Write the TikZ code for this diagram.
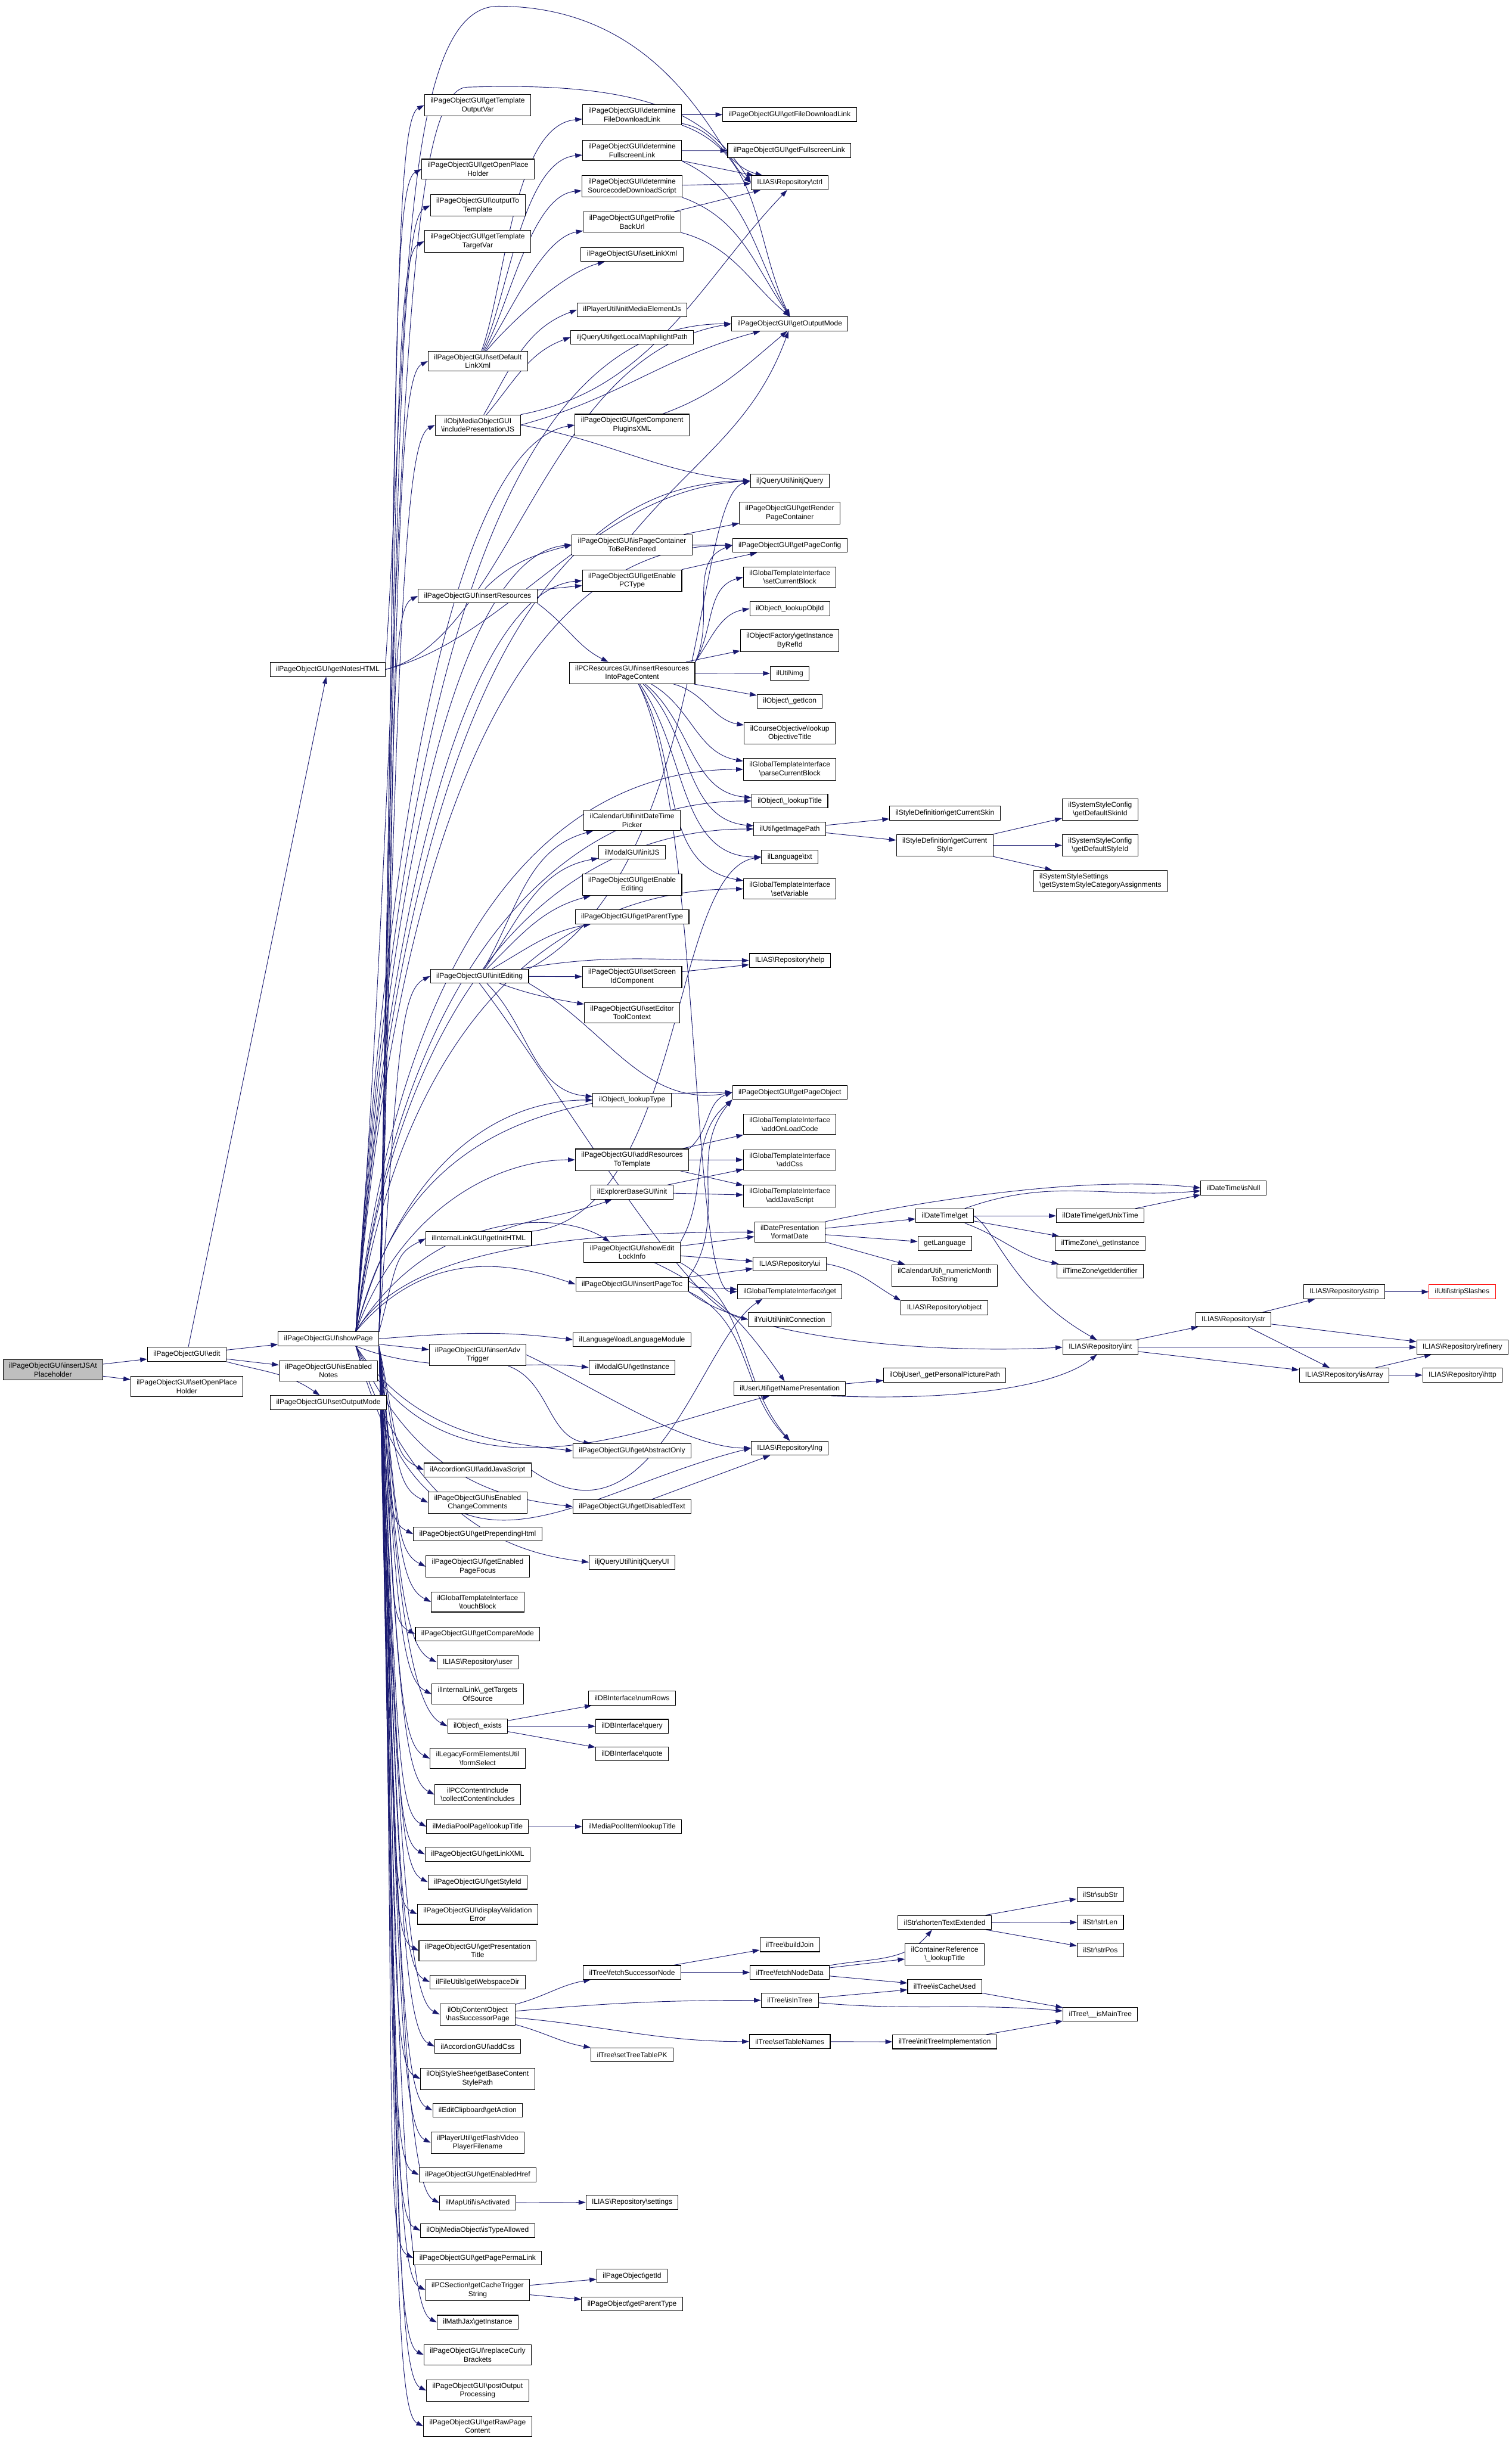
\documentclass[tikz,border=0pt]{standalone}
\usepackage{fontspec}
\setmainfont{Liberation Sans}
\usetikzlibrary{arrows.meta, backgrounds}
\definecolor{edgeblue}{RGB}{25,25,112}
\newcommand{\bsl}{\textbackslash}

\begin{document}
\begin{tikzpicture}[
			x=1pt, y=-1pt,
			fn/.style={rectangle, draw=black, fill=white, line width=0.4pt, align=center,
				inner xsep=3.8pt, inner ysep=2pt, minimum height=9pt, font=\fontsize{4.6}{5.6}\selectfont},
			rootfn/.style={fn, fill=black!25},
			redfn/.style={fn, draw=red},
			arr/.style={-{Triangle[length=4.5pt,width=3pt]}, draw=edgeblue, line width=0.35pt}
		]
			\useasboundingbox (0,0) rectangle (971,1568);

			\node[rootfn] (root) at (34,880) {ilPageObjectGUI\bsl insertJSAt\\Placeholder};
			\node[fn] (edit) at (120,870) {ilPageObjectGUI\bsl edit};
			\node[fn] (setOPH) at (120,890.7) {ilPageObjectGUI\bsl setOpenPlace\\Holder};
			\node[fn] (showPage) at (211,860) {ilPageObjectGUI\bsl showPage};
			\node[fn] (isEnNotes) at (211,880.5) {ilPageObjectGUI\bsl isEnabled\\Notes};
			\node[fn] (setOutMode) at (211,901) {ilPageObjectGUI\bsl setOutputMode};
			\node[fn] (getNotes) at (210.5,430) {ilPageObjectGUI\bsl getNotesHTML};

			\node[fn] (getTplOut) at (306.8,67.6) {ilPageObjectGUI\bsl getTemplate\\OutputVar};
			\node[fn] (getOPH) at (307,108.7) {ilPageObjectGUI\bsl getOpenPlace\\Holder};
			\node[fn] (outToTpl) at (306.9,132) {ilPageObjectGUI\bsl outputTo\\Template};
			\node[fn] (getTplTgt) at (306.8,155) {ilPageObjectGUI\bsl getTemplate\\TargetVar};
			\node[fn] (setDefLink) at (306.9,232) {ilPageObjectGUI\bsl setDefault\\LinkXml};
			\node[fn] (inclPresJS) at (306.9,273) {ilObjMediaObjectGUI\\\bsl includePresentationJS};
			\node[fn] (insRes) at (306.8,382.8) {ilPageObjectGUI\bsl insertResources};
			\node[fn] (initEdit) at (308,627) {ilPageObjectGUI\bsl initEditing};
			\node[fn] (getInitHTML) at (307.5,795.6) {ilInternalLinkGUI\bsl getInitHTML};
			\node[fn] (insAdv) at (306.8,870.3) {ilPageObjectGUI\bsl insertAdv\\Trigger};
			\node[fn] (accJS) at (306.8,944.3) {ilAccordionGUI\bsl addJavaScript};
			\node[fn] (isEnCC) at (306.8,965.2) {ilPageObjectGUI\bsl isEnabled\\ChangeComments};
			\node[fn] (getPrepHtml) at (306.8,985.4) {ilPageObjectGUI\bsl getPrependingHtml};
			\node[fn] (getEnPF) at (306.8,1006.3) {ilPageObjectGUI\bsl getEnabled\\PageFocus};
			\node[fn] (touchBlock) at (306.8,1029) {ilGlobalTemplateInterface\\\bsl touchBlock};
			\node[fn] (getCmpMode) at (306.8,1049.6) {ilPageObjectGUI\bsl getCompareMode};
			\node[fn] (repUser) at (306.8,1067.7) {ILIAS\bsl Repository\bsl user};
			\node[fn] (getTargets) at (306.8,1088.2) {ilInternalLink\bsl\_getTargets\\OfSource};
			\node[fn] (objExists) at (306.8,1108.8) {ilObject\bsl\_exists};
			\node[fn] (formSel) at (306.8,1129.6) {ilLegacyFormElementsUtil\\\bsl formSelect};
			\node[fn] (collCI) at (306.8,1152.7) {ilPCContentInclude\\\bsl collectContentIncludes};
			\node[fn] (mpPageLT) at (306.8,1173.3) {ilMediaPoolPage\bsl lookupTitle};
			\node[fn] (getLinkXML) at (306.8,1191.1) {ilPageObjectGUI\bsl getLinkXML};
			\node[fn] (getStyleId) at (306.8,1209) {ilPageObjectGUI\bsl getStyleId};
			\node[fn] (dispValErr) at (306.8,1229.6) {ilPageObjectGUI\bsl displayValidation\\Error};
			\node[fn] (getPresTitle) at (306.8,1253) {ilPageObjectGUI\bsl getPresentation\\Title};
			\node[fn] (getWebDir) at (306.8,1273.2) {ilFileUtils\bsl getWebspaceDir};
			\node[fn] (hasSucc) at (306.8,1294) {ilObjContentObject\\\bsl hasSuccessorPage};
			\node[fn] (accCss) at (306.8,1314.5) {ilAccordionGUI\bsl addCss};
			\node[fn] (baseCSP) at (306.8,1335.3) {ilObjStyleSheet\bsl getBaseContent\\StylePath};
			\node[fn] (clipAction) at (306.8,1355.6) {ilEditClipboard\bsl getAction};
			\node[fn] (flashVid) at (306.8,1376.4) {ilPlayerUtil\bsl getFlashVideo\\PlayerFilename};
			\node[fn] (getEnHref) at (306.8,1397) {ilPageObjectGUI\bsl getEnabledHref};
			\node[fn] (mapAct) at (306.8,1415) {ilMapUtil\bsl isActivated};
			\node[fn] (typeAllowed) at (306.8,1432.8) {ilObjMediaObject\bsl isTypeAllowed};
			\node[fn] (permaLink) at (306.8,1450.5) {ilPageObjectGUI\bsl getPagePermaLink};
			\node[fn] (cacheTrig) at (306.8,1471) {ilPCSection\bsl getCacheTrigger\\String};
			\node[fn] (mathJax) at (306.8,1491.7) {ilMathJax\bsl getInstance};
			\node[fn] (curly) at (306.8,1512.7) {ilPageObjectGUI\bsl replaceCurly\\Brackets};
			\node[fn] (postOut) at (306.8,1535.6) {ilPageObjectGUI\bsl postOutput\\Processing};
			\node[fn] (rawPage) at (306.8,1558.5) {ilPageObjectGUI\bsl getRawPage\\Content};

			\node[fn] (detFileDL) at (406,73.7) {ilPageObjectGUI\bsl determine\\FileDownloadLink};
			\node[fn] (detFull) at (406,96.8) {ilPageObjectGUI\bsl determine\\FullscreenLink};
			\node[fn] (detSrc) at (406,119.7) {ilPageObjectGUI\bsl determine\\SourcecodeDownloadScript};
			\node[fn] (profBack) at (406,142.7) {ilPageObjectGUI\bsl getProfile\\BackUrl};
			\node[fn] (setLinkXml) at (406,163.4) {ilPageObjectGUI\bsl setLinkXml};
			\node[fn] (initMEJs) at (406,199) {ilPlayerUtil\bsl initMediaElementJs};
			\node[fn] (mapHiPath) at (406,216.7) {iljQueryUtil\bsl getLocalMaphilightPath};
			\node[fn] (compPlug) at (406,273) {ilPageObjectGUI\bsl getComponent\\PluginsXML};
			\node[fn] (isPCRend) at (406,350) {ilPageObjectGUI\bsl isPageContainer\\ToBeRendered};
			\node[fn] (getEnPC) at (406,373) {ilPageObjectGUI\bsl getEnable\\PCType};
			\node[fn] (insResPC) at (406,432.3) {ilPCResourcesGUI\bsl insertResources\\IntoPageContent};
			\node[fn] (dtPicker) at (406,527) {ilCalendarUtil\bsl initDateTime\\Picker};
			\node[fn] (modalJS) at (406,547.5) {ilModalGUI\bsl initJS};
			\node[fn] (getEnEdit) at (406,568.3) {ilPageObjectGUI\bsl getEnable\\Editing};
			\node[fn] (getParType) at (406,589) {ilPageObjectGUI\bsl getParentType};
			\node[fn] (setScreen) at (406,627.5) {ilPageObjectGUI\bsl setScreen\\IdComponent};
			\node[fn] (setEdCtx) at (406,650.5) {ilPageObjectGUI\bsl setEditor\\ToolContext};
			\node[fn] (lookupType) at (406,706.6) {ilObject\bsl\_lookupType};
			\node[fn] (addResTpl) at (406,745) {ilPageObjectGUI\bsl addResources\\ToTemplate};
			\node[fn] (explInit) at (406,765.8) {ilExplorerBaseGUI\bsl init};
			\node[fn] (showLock) at (406,804.4) {ilPageObjectGUI\bsl showEdit\\LockInfo};
			\node[fn] (insToc) at (406,825) {ilPageObjectGUI\bsl insertPageToc};
			\node[fn] (loadLang) at (406,860.6) {ilLanguage\bsl loadLanguageModule};
			\node[fn] (modalInst) at (406,878.4) {ilModalGUI\bsl getInstance};
			\node[fn] (absOnly) at (406,932) {ilPageObjectGUI\bsl getAbstractOnly};
			\node[fn] (disText) at (406,967.8) {ilPageObjectGUI\bsl getDisabledText};
			\node[fn] (jqUI) at (406,1003.5) {iljQueryUtil\bsl initjQueryUI};
			\node[fn] (numRows) at (406,1090.8) {ilDBInterface\bsl numRows};
			\node[fn] (dbQuery) at (406,1108.9) {ilDBInterface\bsl query};
			\node[fn] (dbQuote) at (406,1126.6) {ilDBInterface\bsl quote};
			\node[fn] (mpItemLT) at (406,1173.3) {ilMediaPoolItem\bsl lookupTitle};
			\node[fn] (fetchSucc) at (406,1267) {ilTree\bsl fetchSuccessorNode};
			\node[fn] (setPK) at (406,1320) {ilTree\bsl setTreeTablePK};
			\node[fn] (repSettings) at (406,1414.6) {ILIAS\bsl Repository\bsl settings};
			\node[fn] (pgGetId) at (406,1462) {ilPageObject\bsl getId};
			\node[fn] (pgParType) at (406,1480) {ilPageObject\bsl getParentType};

			\node[fn] (getFileDL) at (507.2,73.6) {ilPageObjectGUI\bsl getFileDownloadLink};
			\node[fn] (getFullLink) at (507,96.7) {ilPageObjectGUI\bsl getFullscreenLink};
			\node[fn] (repCtrl) at (507.3,117.4) {ILIAS\bsl Repository\bsl ctrl};
			\node[fn] (getOutMode) at (507.3,208) {ilPageObjectGUI\bsl getOutputMode};
			\node[fn] (jq) at (507.3,309) {iljQueryUtil\bsl initjQuery};
			\node[fn] (renderPC) at (507.3,329.6) {ilPageObjectGUI\bsl getRender\\PageContainer};
			\node[fn] (pageConfig) at (507.3,350.3) {ilPageObjectGUI\bsl getPageConfig};
			\node[fn] (setCurBlock) at (507.3,370.7) {ilGlobalTemplateInterface\\\bsl setCurrentBlock};
			\node[fn] (lookupObjId) at (507.3,391) {ilObject\bsl\_lookupObjId};
			\node[fn] (instByRef) at (507.3,411.5) {ilObjectFactory\bsl getInstance\\ByRefId};
			\node[fn] (utilImg) at (507.3,432.6) {ilUtil\bsl img};
			\node[fn] (getIcon) at (507.3,450.5) {ilObject\bsl\_getIcon};
			\node[fn] (objTitle) at (507.3,471) {ilCourseObjective\bsl lookup\\ObjectiveTitle};
			\node[fn] (parseCB) at (507.3,494.2) {ilGlobalTemplateInterface\\\bsl parseCurrentBlock};
			\node[fn] (lookupTitle) at (507.3,514.5) {ilObject\bsl\_lookupTitle};
			\node[fn] (imgPath) at (507.3,532.5) {ilUtil\bsl getImagePath};
			\node[fn] (langTxt) at (507.3,550.5) {ilLanguage\bsl txt};
			\node[fn] (setVar) at (507.3,571) {ilGlobalTemplateInterface\\\bsl setVariable};
			\node[fn] (repHelp) at (507.3,617) {ILIAS\bsl Repository\bsl help};
			\node[fn] (pageObj) at (507.3,701.7) {ilPageObjectGUI\bsl getPageObject};
			\node[fn] (onLoad) at (507.3,722.3) {ilGlobalTemplateInterface\\\bsl addOnLoadCode};
			\node[fn] (addCss) at (507.3,745) {ilGlobalTemplateInterface\\\bsl addCss};
			\node[fn] (addJS) at (507.3,768.3) {ilGlobalTemplateInterface\\\bsl addJavaScript};
			\node[fn] (fmtDate) at (507.3,791.4) {ilDatePresentation\\\bsl formatDate};
			\node[fn] (repUi) at (507.3,811.9) {ILIAS\bsl Repository\bsl ui};
			\node[fn] (tplGet) at (507.3,829.7) {ilGlobalTemplateInterface\bsl get};
			\node[fn] (yuiConn) at (507.3,847.5) {ilYuiUtil\bsl initConnection};
			\node[fn] (namePres) at (507.3,892) {ilUserUtil\bsl getNamePresentation};
			\node[fn] (repLng) at (507.3,930.2) {ILIAS\bsl Repository\bsl lng};
			\node[fn] (buildJoin) at (507.3,1249.2) {ilTree\bsl buildJoin};
			\node[fn] (fetchND) at (507.3,1267) {ilTree\bsl fetchNodeData};
			\node[fn] (isInTree) at (507.3,1284.9) {ilTree\bsl isInTree};
			\node[fn] (setTblNames) at (507.3,1311.4) {ilTree\bsl setTableNames};

			\node[fn] (curSkin) at (606.9,522.4) {ilStyleDefinition\bsl getCurrentSkin};
			\node[fn] (curStyle) at (606.8,543) {ilStyleDefinition\bsl getCurrent\\Style};
			\node[fn] (dtGet) at (606.8,781) {ilDateTime\bsl get};
			\node[fn] (getLanguage) at (606.8,798.8) {getLanguage};
			\node[fn] (monthStr) at (606.8,819.3) {ilCalendarUtil\bsl\_numericMonth\\ToString};
			\node[fn] (repObject) at (606.6,840.1) {ILIAS\bsl Repository\bsl object};
			\node[fn] (picPath) at (606.8,883.3) {ilObjUser\bsl\_getPersonalPicturePath};
			\node[fn] (shorten) at (606.8,1234.9) {ilStr\bsl shortenTextExtended};
			\node[fn] (contRefLT) at (606.8,1255.4) {ilContainerReference\\\bsl\_lookupTitle};
			\node[fn] (cacheUsed) at (606.8,1276) {ilTree\bsl isCacheUsed};
			\node[fn] (initTreeImpl) at (606.8,1311.6) {ilTree\bsl initTreeImplementation};

			\node[fn] (skinId) at (706.6,520) {ilSystemStyleConfig\\\bsl getDefaultSkinId};
			\node[fn] (styleId) at (706.6,543) {ilSystemStyleConfig\\\bsl getDefaultStyleId};
			\node[fn, align=left] (catAssign) at (706.8,566) {ilSystemStyleSettings\\\bsl getSystemStyleCategoryAssignments};
			\node[fn] (unixTime) at (706.7,781) {ilDateTime\bsl getUnixTime};
			\node[fn] (tzInst) at (706.7,798.8) {ilTimeZone\bsl\_getInstance};
			\node[fn] (tzIdent) at (706.7,816.5) {ilTimeZone\bsl getIdentifier};
			\node[fn] (repInt) at (706.8,865.4) {ILIAS\bsl Repository\bsl int};
			\node[fn] (subStr) at (706.8,1217) {ilStr\bsl subStr};
			\node[fn] (strLen) at (706.8,1234.8) {ilStr\bsl strLen};
			\node[fn] (strPos) at (706.8,1252.6) {ilStr\bsl strPos};
			\node[fn] (mainTree) at (706.8,1293.9) {ilTree\bsl\_\_isMainTree};

			\node[fn] (isNull) at (792.3,763.1) {ilDateTime\bsl isNull};
			\node[fn] (repStr) at (792.2,847.6) {ILIAS\bsl Repository\bsl str};
			\node[fn] (repStrip) at (863.4,829.8) {ILIAS\bsl Repository\bsl strip};
			\node[fn] (isArray) at (863.4,883.3) {ILIAS\bsl Repository\bsl isArray};
			\node[redfn] (stripSl) at (939.2,829.8) {ilUtil\bsl stripSlashes};
			\node[fn] (refinery) at (939.4,865.4) {ILIAS\bsl Repository\bsl refinery};
			\node[fn] (http) at (939.4,883.3) {ILIAS\bsl Repository\bsl http};

			\begin{scope}[on background layer]
			\fill[white] (0,0) rectangle (971,1568);
			\draw[arr] (root) -- (edit);
			\draw[arr] (root) -- (setOPH);
			\draw[arr] (edit) -- (showPage);
			\draw[arr] (edit) -- (isEnNotes);
			\draw[arr] (edit.south east) to[out=-15,in=145] (setOutMode.140);
			\draw[arr] (edit) -- (getNotes);

			\draw[arr] (getNotes.north east) .. controls (262,200) and (258,4) .. (320,4) .. controls (430,4) and (462,100) .. (repCtrl.west);
			\draw[arr] (getNotes.east) .. controls +(80,-20) and +(-120,20) .. (getOutMode.west);
			\draw[arr] (getNotes.east) .. controls +(80,-20) and +(-100,5) .. (jq.west);

			\draw[arr] (showPage.north east) .. controls +(12,-591) and +(-20,10) .. (getTplOut.west);
			\draw[arr] (showPage.north east) .. controls +(12,-560) and +(-20,10) .. (getOPH.west);
			\draw[arr] (showPage.north east) .. controls +(12,-543) and +(-20,10) .. (outToTpl.west);
			\draw[arr] (showPage.north east) .. controls +(12,-525) and +(-20,10) .. (getTplTgt.west);
			\draw[arr] (showPage.north east) .. controls +(12,-468) and +(-20,10) .. (setDefLink.west);
			\draw[arr] (showPage.north east) .. controls +(12,-437) and +(-20,10) .. (inclPresJS.west);
			\draw[arr] (showPage.north east) .. controls +(12,-355) and +(-20,10) .. (insRes.west);
			\draw[arr] (showPage.north east) .. controls +(12,-171) and +(-20,10) .. (initEdit.west);
			\draw[arr] (showPage.north east) .. controls +(12,-45) and +(-20,10) .. (getInitHTML.west);
			\draw[arr] (showPage) -- (insAdv);
			\draw[arr] (showPage.south east) .. controls +(12,60) and +(-20,-10) .. (accJS.west);
			\draw[arr] (showPage.south east) .. controls +(12,76) and +(-20,-10) .. (isEnCC.west);
			\draw[arr] (showPage.south east) .. controls +(12,91) and +(-20,-10) .. (getPrepHtml.west);
			\draw[arr] (showPage.south east) .. controls +(12,106) and +(-20,-10) .. (getEnPF.west);
			\draw[arr] (showPage.south east) .. controls +(12,123) and +(-20,-10) .. (touchBlock.west);
			\draw[arr] (showPage.south east) .. controls +(12,139) and +(-20,-10) .. (getCmpMode.west);
			\draw[arr] (showPage.south east) .. controls +(12,152) and +(-20,-10) .. (repUser.west);
			\draw[arr] (showPage.south east) .. controls +(12,168) and +(-20,-10) .. (getTargets.west);
			\draw[arr] (showPage.south east) .. controls +(12,183) and +(-20,-10) .. (objExists.west);
			\draw[arr] (showPage.south east) .. controls +(12,199) and +(-20,-10) .. (formSel.west);
			\draw[arr] (showPage.south east) .. controls +(12,216) and +(-20,-10) .. (collCI.west);
			\draw[arr] (showPage.south east) .. controls +(12,232) and +(-20,-10) .. (mpPageLT.west);
			\draw[arr] (showPage.south east) .. controls +(12,245) and +(-20,-10) .. (getLinkXML.west);
			\draw[arr] (showPage.south east) .. controls +(12,258) and +(-20,-10) .. (getStyleId.west);
			\draw[arr] (showPage.south east) .. controls +(12,274) and +(-20,-10) .. (dispValErr.west);
			\draw[arr] (showPage.south east) .. controls +(12,291) and +(-20,-10) .. (getPresTitle.west);
			\draw[arr] (showPage.south east) .. controls +(12,307) and +(-20,-10) .. (getWebDir.west);
			\draw[arr] (showPage.south east) .. controls +(12,322) and +(-20,-10) .. (hasSucc.west);
			\draw[arr] (showPage.south east) .. controls +(12,338) and +(-20,-10) .. (accCss.west);
			\draw[arr] (showPage.south east) .. controls +(12,353) and +(-20,-10) .. (baseCSP.west);
			\draw[arr] (showPage.south east) .. controls +(12,368) and +(-20,-10) .. (clipAction.west);
			\draw[arr] (showPage.south east) .. controls +(12,384) and +(-20,-10) .. (flashVid.west);
			\draw[arr] (showPage.south east) .. controls +(12,399) and +(-20,-10) .. (getEnHref.west);
			\draw[arr] (showPage.south east) .. controls +(12,413) and +(-20,-10) .. (mapAct.west);
			\draw[arr] (showPage.south east) .. controls +(12,426) and +(-20,-10) .. (typeAllowed.west);
			\draw[arr] (showPage.south east) .. controls +(12,440) and +(-20,-10) .. (permaLink.west);
			\draw[arr] (showPage.south east) .. controls +(12,455) and +(-20,-10) .. (cacheTrig.west);
			\draw[arr] (showPage.south east) .. controls +(12,470) and +(-20,-10) .. (mathJax.west);
			\draw[arr] (showPage.south east) .. controls +(12,486) and +(-20,-10) .. (curly.west);
			\draw[arr] (showPage.south east) .. controls +(12,503) and +(-20,-10) .. (postOut.west);
			\draw[arr] (showPage.south east) .. controls +(12,520) and +(-20,-10) .. (rawPage.west);

			\draw[arr] (showPage.15) .. controls +(25,-420) and +(-60,10) .. (compPlug.west);
			\draw[arr] (showPage.15) .. controls +(25,-360) and +(-60,5) .. (isPCRend.west);
			\draw[arr] (showPage.15) .. controls +(25,-340) and +(-60,5) .. (getEnPC.west);
			\draw[arr] (showPage.15) .. controls (262,400) and (252,58) .. (300,56) .. controls (420,52) and (455,75) .. (repCtrl.west);
			\draw[arr] (showPage.15) .. controls +(30,-470) and +(-130,0) .. (getOutMode.west);
			\draw[arr] (showPage.15) .. controls +(30,-400) and +(-130,0) .. (jq.west);
			\draw[arr] (showPage.15) .. controls +(30,-370) and +(-120,0) .. (pageConfig.west);
			\draw[arr] (showPage.15) .. controls +(30,-260) and +(-120,0) .. (parseCB.west);
			\draw[arr] (showPage.15) .. controls +(30,-240) and +(-120,0) .. (lookupTitle.west);
			\draw[arr] (showPage.15) .. controls +(30,-230) and +(-120,0) .. (imgPath.west);
			\draw[arr] (showPage.15) .. controls +(30,-200) and +(-120,0) .. (setVar.west);
			\draw[arr] (showPage.15) .. controls +(30,-110) and +(-60,0) .. (lookupType.west);
			\draw[arr] (showPage.15) .. controls +(30,-120) and +(-130,0) .. (pageObj.west);
			\draw[arr] (showPage.15) .. controls +(30,-80) and +(-50,0) .. (addResTpl.west);
			\draw[arr] (showPage.15) .. controls +(30,-50) and +(-130,0) .. (fmtDate.west);
			\draw[arr] (showPage.15) .. controls +(50,-80) and +(-30,-20) .. (showLock.155);
			\draw[arr] (showPage.15) .. controls +(50,-60) and +(-30,-10) .. (insToc.west);
			\draw[arr] (showPage.east) .. controls +(60,-5) and +(-40,-5) .. (loadLang.west);
			\draw[arr] (showPage.-15) .. controls +(50,20) and +(-40,-5) .. (modalInst.west);
			\draw[arr] (showPage.-15) .. controls +(60,110) and +(-80,20) .. (namePres.200);
			\draw[arr] (showPage.-15) .. controls +(40,60) and +(-40,-5) .. (absOnly.west);
			\draw[arr] (showPage.-15) .. controls +(50,180) and +(-120,30) .. (repLng.west);
			\draw[arr] (showPage.-15) .. controls +(40,90) and +(-40,-5) .. (disText.west);
			\draw[arr] (showPage.-15) .. controls +(40,120) and +(-40,-5) .. (jqUI.west);

			\draw[arr] (setDefLink) to[out=70,in=185,looseness=0.7] (detFileDL);
			\draw[arr] (setDefLink) to[out=65,in=185,looseness=0.7] (detFull);
			\draw[arr] (setDefLink) to[out=60,in=185,looseness=0.7] (detSrc);
			\draw[arr] (setDefLink) to[out=55,in=190,looseness=0.7] (profBack);
			\draw[arr] (setDefLink) to[out=50,in=195,looseness=0.7] (setLinkXml);
			\draw[arr] (inclPresJS) to[out=60,in=200] (initMEJs.west);
			\draw[arr] (inclPresJS) to[out=50,in=200] (mapHiPath.west);
			\draw[arr] (inclPresJS.north east) .. controls (420,250) and (450,180) .. (repCtrl.-110);
			\draw[arr] (inclPresJS.east) to[out=15,in=195] (getOutMode.194);
			\draw[arr] (inclPresJS.east) to[out=-10,in=175] (jq.west);
			\draw[arr] (insRes) to[out=45,in=195] (isPCRend.west);
			\draw[arr] (insRes) -- (getEnPC);
			\draw[arr] (insRes.south east) .. controls +(20,15) and +(-20,-10) .. (insResPC.155);
			\draw[arr] (isPCRend) -- (renderPC);
			\draw[arr] (isPCRend) -- (pageConfig);
			\draw[arr] (isPCRend.north) to[out=50,in=250] (getOutMode.-100);
			\draw[arr] (getEnPC) -- (pageConfig);
			\draw[arr] (compPlug) to[out=20,in=220] (getOutMode.-110);
			\draw[arr] (detFileDL) -- (getFileDL);
			\draw[arr] (detFileDL) to[out=-10,in=165] (repCtrl);
			\draw[arr] (detFileDL.south east) to[out=-20,in=115] (getOutMode.north);
			\draw[arr] (detFull) -- (getFullLink);
			\draw[arr] (detFull) -- (repCtrl);
			\draw[arr] (detFull.south east) to[out=-25,in=120] (getOutMode.north);
			\draw[arr] (detSrc) -- (repCtrl);
			\draw[arr] (detSrc.south east) to[out=-20,in=125] (getOutMode.north);
			\draw[arr] (profBack) -- (repCtrl);
			\draw[arr] (profBack.south east) to[out=-15,in=140] (getOutMode.north);

			\draw[arr] (insResPC.north east) to[out=60,in=195] (setCurBlock.west);
			\draw[arr] (insResPC.north east) to[out=55,in=190] (lookupObjId.west);
			\draw[arr] (insResPC.north east) to[out=65,in=200] (pageConfig.west);
			\draw[arr] (insResPC) -- (instByRef);
			\draw[arr] (insResPC) -- (utilImg);
			\draw[arr] (insResPC) -- (getIcon);
			\draw[arr] (insResPC) to[out=-15,in=170] (objTitle);
			\draw[arr] (insResPC) to[out=-30,in=170] (parseCB);
			\draw[arr] (insResPC) to[out=-40,in=175] (lookupTitle);
			\draw[arr] (insResPC) to[out=-45,in=175] (imgPath);
			\draw[arr] (insResPC) to[out=-55,in=180] (langTxt);
			\draw[arr] (insResPC) to[out=-60,in=170] (setVar);
			\draw[arr] (insResPC.-60) .. controls +(40,80) and +(-30,0) .. (tplGet.west);
			\draw[arr] (imgPath) -- (curSkin);
			\draw[arr] (imgPath) -- (curStyle);
			\draw[arr] (curStyle) -- (skinId);
			\draw[arr] (curStyle) -- (styleId);
			\draw[arr] (curStyle) -- (catAssign);

			\draw[arr] (initEdit) to[out=60,in=195] (dtPicker);
			\draw[arr] (initEdit) to[out=55,in=190] (modalJS);
			\draw[arr] (initEdit) to[out=45,in=195] (getEnEdit);
			\draw[arr] (initEdit) to[out=30,in=190] (getParType);
			\draw[arr] (initEdit) -- (setScreen);
			\draw[arr] (initEdit) to[out=-20,in=170] (setEdCtx);
			\draw[arr] (initEdit) to[out=-45,in=175] (lookupType);
			\draw[arr] (initEdit) to[out=10,in=180] (repHelp);
			\draw[arr] (initEdit.south east) to[out=-30,in=190] (pageObj.west);
			\draw[arr] (initEdit.south) .. controls (360,700) and (440,840) .. (yuiConn.west);
			\draw[arr] (initEdit.north east) .. controls (455,560) and (445,320) .. (jq.west);
			\draw[arr] (setScreen) -- (repHelp);
			\draw[arr] (addResTpl) -- (onLoad);
			\draw[arr] (addResTpl) -- (addCss);
			\draw[arr] (addResTpl) -- (addJS);
			\draw[arr] (addResTpl.north east) to[out=40,in=200] (pageObj.west);
			\draw[arr] (explInit) -- (addCss);
			\draw[arr] (explInit) -- (addJS);
			\draw[arr] (getInitHTML) to[out=20,in=200] (explInit);
			\draw[arr] (getInitHTML.north east) .. controls (440,780) and (430,560) .. (langTxt.west);
			\draw[arr] (showLock) -- (fmtDate);
			\draw[arr] (showLock) -- (repUi);
			\draw[arr] (showLock) to[out=-25,in=125] (namePres);
			\draw[arr] (showLock.south east) to[out=-30,in=130] (repLng.north);
			\draw[arr] (showLock.north east) to[out=60,in=220] (pageObj.south west);
			\draw[arr] (insToc) -- (repUi);
			\draw[arr] (insToc) -- (tplGet);
			\draw[arr] (insToc.south east) to[out=-25,in=135] (repLng.north);
			\draw[arr] (insToc.south east) .. controls (480,860) and (600,870) .. (repInt.west);
			\draw[arr] (insToc.north east) to[out=55,in=230] (pageObj.south west);
			\draw[arr] (insAdv) to[out=-20,in=170] (absOnly);
			\draw[arr] (insAdv.east) .. controls (380,890) and (440,930) .. (repLng.west);
			\draw[arr] (accJS.east) .. controls (420,1000) and (450,860) .. (tplGet.195);
			\draw[arr] (disText) -- (repLng);

			\draw[arr] (fmtDate.north east) .. controls (600,770) and (700,755) .. (isNull.west);
			\draw[arr] (fmtDate) -- (dtGet);
			\draw[arr] (fmtDate) -- (getLanguage);
			\draw[arr] (fmtDate) -- (monthStr);
			\draw[arr] (repUi.east) to[out=-10,in=150] (repObject.north west);
			\draw[arr] (dtGet) to[out=20,in=185] (isNull);
			\draw[arr] (dtGet) -- (unixTime);
			\draw[arr] (dtGet) -- (tzInst);
			\draw[arr] (dtGet) to[out=-20,in=170] (tzIdent);
			\draw[arr] (dtGet.east) .. controls (640,790) and (650,830) .. (repInt.115);
			\draw[arr] (unixTime) -- (isNull);
			\draw[arr] (namePres) -- (picPath);
			\draw[arr] (namePres.-10) .. controls (620,900) and (680,890) .. (repInt.-115);
			\draw[arr] (repInt) -- (repStr);
			\draw[arr] (repInt) -- (refinery);
			\draw[arr] (repInt) -- (isArray);
			\draw[arr] (repStr) -- (repStrip);
			\draw[arr] (repStr) -- (refinery);
			\draw[arr] (repStr) -- (isArray);
			\draw[arr] (repStrip) -- (stripSl);
			\draw[arr] (isArray) -- (refinery);
			\draw[arr] (isArray) -- (http);

			\draw[arr] (objExists) -- (numRows);
			\draw[arr] (objExists) -- (dbQuery);
			\draw[arr] (objExists) -- (dbQuote);
			\draw[arr] (mpPageLT) -- (mpItemLT);
			\draw[arr] (hasSucc) to[out=15,in=190] (fetchSucc);
			\draw[arr] (hasSucc) to[out=-15,in=170] (setPK);
			\draw[arr] (hasSucc) to[out=5,in=180] (isInTree);
			\draw[arr] (hasSucc) to[out=-5,in=180] (setTblNames);
			\draw[arr] (fetchSucc) -- (buildJoin);
			\draw[arr] (fetchSucc) -- (fetchND);
			\draw[arr] (fetchND) to[out=10,in=230] (shorten.-150);
			\draw[arr] (fetchND) -- (contRefLT);
			\draw[arr] (fetchND) -- (cacheUsed);
			\draw[arr] (isInTree) -- (cacheUsed);
			\draw[arr] (isInTree) to[out=-5,in=175] (mainTree);
			\draw[arr] (cacheUsed) -- (mainTree);
			\draw[arr] (setTblNames) -- (initTreeImpl);
			\draw[arr] (initTreeImpl) -- (mainTree);
			\draw[arr] (shorten) -- (subStr);
			\draw[arr] (shorten) -- (strLen);
			\draw[arr] (shorten) -- (strPos);
			\draw[arr] (mapAct) -- (repSettings);
			\draw[arr] (cacheTrig) -- (pgGetId);
			\draw[arr] (cacheTrig) -- (pgParType);
			\end{scope}
		\end{tikzpicture}
\end{document}
